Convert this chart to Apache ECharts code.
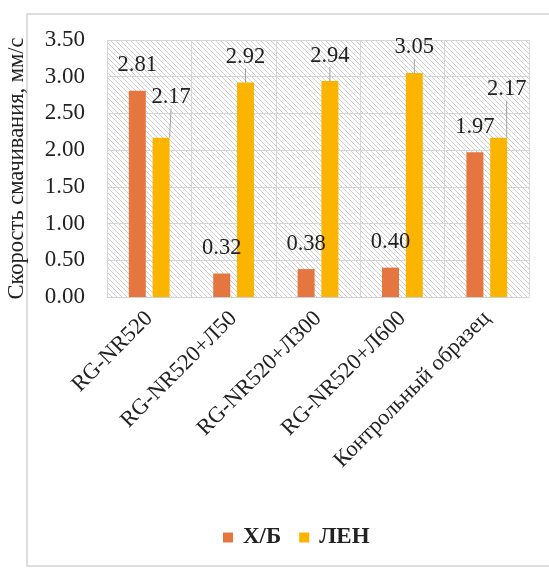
<!DOCTYPE html>
<html>
<head>
<meta charset="utf-8">
<script src="https://cdn.jsdelivr.net/npm/echarts@6/dist/echarts.min.js"></script>
<style>
  html, body { margin: 0; padding: 0; background: #fff; }
  #chart { width: 549px; height: 568px; }
</style>
</head>
<body>
<div id="chart"></div>
<script>
// Wetting speed by sample
const categories = ['RG-NR520', 'RG-NR520+Л50', 'RG-NR520+Л300', 'RG-NR520+Л600', 'Контрольный образец'];
const seriesNames = ['Х/Б', 'ЛЕН'];
const cottonValues = [2.81, 0.32, 0.38, 0.40, 1.97];
const linenValues = [2.17, 2.92, 2.94, 3.05, 2.17];
const yTicks = [0, 0.5, 1, 1.5, 2, 2.5, 3, 3.5];

const FONT = '"Liberation Serif", "DejaVu Serif", serif';

// Diagonal hatch used as the plot-area fill
function hatchPattern() {
  const c = document.createElement('canvas');
  const s = 5;
  c.width = s; c.height = s;
  const ctx = c.getContext('2d');
  ctx.fillStyle = '#ffffff';
  ctx.fillRect(0, 0, s, s);
  ctx.strokeStyle = '#cfcfcf';
  ctx.lineWidth = 1;
  ctx.beginPath();
  ctx.moveTo(-1, -1); ctx.lineTo(s + 1, s + 1);
  ctx.moveTo(-1 - s, -1); ctx.lineTo(1, s + 1);
  ctx.moveTo(s - 1, -1); ctx.lineTo(2 * s + 1, s + 1);
  ctx.stroke();
  return { image: c, repeat: 'repeat' };
}

const chart = echarts.init(document.getElementById('chart'), null, { renderer: 'canvas' });

const labelStyle = {
  show: true,
  position: 'top',
  distance: 14,
  fontFamily: FONT,
  fontSize: 22.5,
  color: '#222',
  formatter: p => p.value.toFixed(2)
};

chart.setOption({
  backgroundColor: '#ffffff',
  animation: false,
  graphic: [{
    type: 'rect',
    shape: { x: 27, y: 14, width: 540, height: 552 },
    style: { fill: 'none', stroke: '#d4d4d4', lineWidth: 1.5 },
    z: -1
  }],
  grid: {
    left: 107, right: 20, top: 40, bottom: 271,
    outerBoundsMode: 'none',
    containLabel: false,
    show: true,
    backgroundColor: hatchPattern(),
    borderWidth: 0
  },
  legend: {
    data: seriesNames,
    top: 521,
    left: 218,
    itemWidth: 10,
    itemHeight: 10,
    itemGap: 18,
    icon: 'rect',
    textStyle: { fontFamily: FONT, fontSize: 23, fontWeight: 'bold', color: '#222', padding: [0, 0, 0, 5] }
  },
  xAxis: {
    type: 'category',
    data: categories,
    axisLine: { show: true, lineStyle: { color: '#d0d0d0' } },
    axisTick: { show: false },
    splitLine: { show: true, lineStyle: { color: '#d6d6d6' } },
    axisLabel: {
      rotate: 45,
      interval: 0,
      margin: 18,
      fontFamily: FONT,
      fontSize: 22.5,
      color: '#222'
    }
  },
  yAxis: {
    type: 'value',
    min: 0,
    max: 3.5,
    interval: 0.5,
    name: 'Скорость смачивания, мм/с',
    nameLocation: 'middle',
    nameGap: 78,
    nameRotate: 90,
    nameTextStyle: { fontFamily: FONT, fontSize: 22.5, color: '#222' },
    axisLine: { show: false },
    axisTick: { show: false },
    splitLine: { show: true, lineStyle: { color: '#d6d6d6' } },
    axisLabel: {
      margin: 22,
      fontFamily: FONT,
      fontSize: 23,
      color: '#222',
      formatter: v => (yTicks.includes(v) ? v.toFixed(2) : '')
    }
  },
  series: [
    {
      name: seriesNames[0],
      type: 'bar',
      data: cottonValues,
      barWidth: 17,
      barGap: '40%',
      itemStyle: { color: '#E6763F' },
      label: labelStyle
    },
    {
      name: seriesNames[1],
      type: 'bar',
      data: linenValues,
      barWidth: 17,
      itemStyle: { color: '#FBB400' },
      label: labelStyle,
      labelLine: { show: true, lineStyle: { color: '#a0a0a0', width: 1 } },
      labelLayout: p => {
        if (p.dataIndex === 0) return { dx: 10, dy: -15 };
        if (p.dataIndex === 4) return { dx: 8, dy: -23 };
        return {};
      }
    }
  ]
});
</script>
</body>
</html>
